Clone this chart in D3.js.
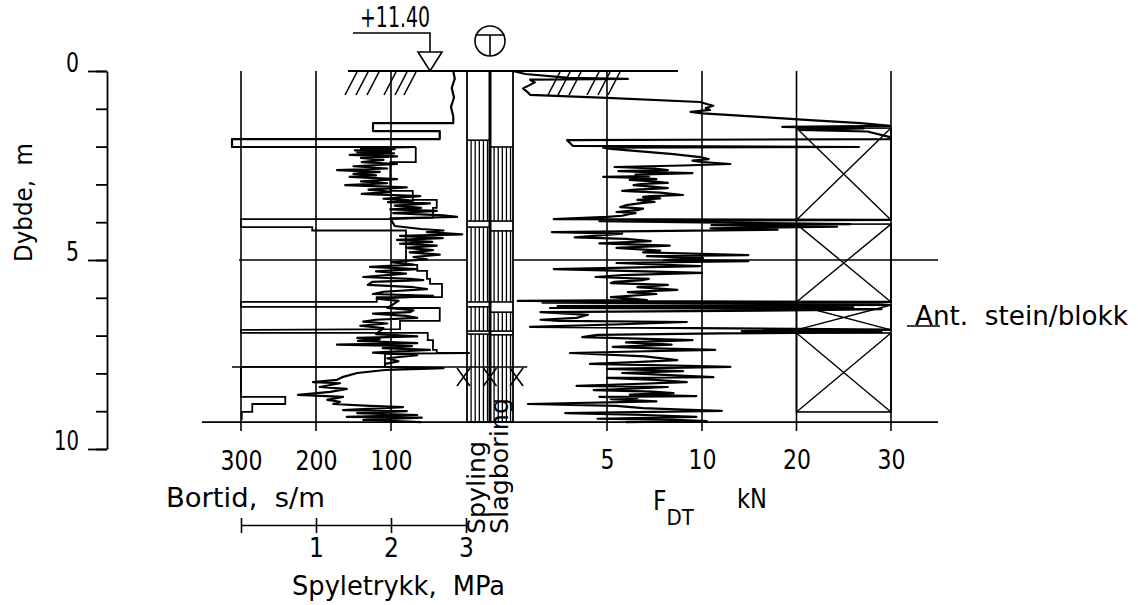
<!DOCTYPE html>
<html>
<head>
<meta charset="utf-8">
<script src="https://cdn.jsdelivr.net/npm/d3@7/dist/d3.min.js"></script>
<style>
  body { margin: 0; background: #fff; }
  svg text { font-family: "DejaVu Sans Condensed", "DejaVu Sans", sans-serif; fill: #000; white-space: pre; }
</style>
</head>
<body>
<svg id="chart" width="1138" height="605"></svg>
<script>
// ---- tick values and labels ----
const depthTicks = [0, 1, 2, 3, 4, 5, 6, 7, 8, 9, 10];
const depthLabels = [0, 5, 10];
const bortidTicks = [300, 200, 100];
const pressureTicks = [0, 1, 2, 3];
const forceTicks = [5, 10, 20, 30];
const groundLevel = "+11.40";

// ---- sounding record ----
const endDepth = 9.29;           // m, bottom of sounding
const markerDepth = 7.83;        // m, marker line with X symbols
const spylingIntervals = [[1.83, 3.97], [4.13, 6.11], [6.24, 6.88], [6.96, 9.31]];
const slagIntervals    = [[2.01, 3.97], [4.23, 6.11], [6.38, 6.88], [6.98, 9.31]];
const stoneIntervals   = [[1.51, 3.94], [4.05, 6.11], [6.19, 6.85], [6.93, 9.02]];

// penetration time, [depth m, s/m]
const bortid = [
  [0.00,17],[0.20,15],[0.45,19],[0.70,16],[0.95,20],[1.20,17],[1.38,17],[1.38,124],[1.59,124],[1.59,35],
  [1.80,35],[1.80,312],[2.01,312],[2.01,68],
  [2.05,140],[2.07,95],[2.10,148],[2.12,100],[2.15,145],[2.18,96],[2.22,155],[2.26,92],[2.30,140],[2.35,110],
  [2.41,139],[2.46,92],[2.52,150],[2.58,105],[2.62,172],[2.67,115],[2.72,150],[2.76,120],[2.80,155],[2.86,92],
  [2.92,140],[2.97,105],[3.02,161],[3.08,79],[3.14,130],[3.20,100],[3.25,139],[3.31,61],[3.38,110],[3.43,70],
  [3.47,104],[3.50,48],[3.56,95],[3.62,60],[3.66,101],[3.70,39],[3.76,97],[3.82,30],[3.86,12],[3.90,101],
  [4.10,95],[4.18,60],[4.22,30],[4.26,52],[4.32,5],[4.36,88],[4.42,31],[4.47,92],[4.52,45],[4.57,88],
  [4.62,39],[4.68,80],[4.74,44],[4.80,75],[4.86,35],[4.92,70],[4.98,52],[5.06,100],[5.12,70],[5.18,128],
  [5.24,65],[5.30,120],[5.36,80],[5.45,137],[5.50,75],[5.53,57],[5.58,125],[5.66,131],[5.72,70],[5.77,52],
  [5.84,110],[5.90,124],[5.95,44],[6.02,119],[6.08,90],
  [6.27,105],[6.33,70],[6.38,75],[6.42,124],[6.48,80],[6.53,65],[6.58,120],[6.63,137],[6.68,105],[6.74,141],[6.80,110],
  [6.96,120],[7.02,65],[7.06,145],[7.10,115],[7.14,144],[7.20,65],[7.24,172],[7.28,72],[7.33,111],[7.38,48],
  [7.45,124],[7.52,65],[7.60,105],[7.68,90],[7.75,108],[7.83,108],[7.86,30],[7.88,60],[7.91,108],[7.99,145],
  [8.10,165],[8.17,172],[8.23,204],[8.26,168],[8.36,195],[8.41,159],[8.49,181],[8.57,224],[8.62,164],[8.70,185],
  [8.75,168],[8.81,177],[8.86,128],[8.89,84],[8.97,164],[9.00,79],[9.05,145],[9.10,65],[9.15,159],[9.17,59],
  [9.23,137],[9.29,60]
];

// flushing pressure, [depth m, MPa]
const spyletrykk = [
  [2.01,2.33],[2.41,2.33],[2.41,1.99],[3.17,1.99],[3.17,2.29],[3.41,2.29],[3.41,2.61],[3.62,2.61],[3.62,2.56],
  [3.88,2.56],[3.92,2.0],[3.92,0.0],[4.13,0.0],[4.13,0.95],[4.22,0.95],[4.22,2.2],[5.13,2.2],[5.13,2.35],
  [5.29,2.35],[5.29,2.48],[5.50,2.48],[5.50,2.52],[5.63,2.52],[5.63,2.68],[5.98,2.68],[5.98,1.81],[6.11,1.81],
  [6.11,0.0],[6.24,0.0],[6.24,2.01],[6.27,2.01],[6.27,2.65],[6.61,2.65],[6.61,2.12],[6.83,2.12],[6.85,0.0],
  [6.93,0.0],[6.93,2.49],[7.12,2.49],[7.12,2.56],[7.38,2.56],[7.38,2.61],[7.46,2.61],[7.46,3.05],[7.48,1.92],
  [7.83,1.92],[7.83,0.0],[8.62,0.0],[8.62,0.59],[8.81,0.59],[8.81,0.15],[9.02,0.15],[9.02,0.01],[9.20,0.01],[9.20,0.0]
];

// push force, [depth m, kN]
const fdt = [
  [0.00,0.05],[0.08,0.7],[0.18,3.0],[0.21,6.1],[0.23,0.95],[0.30,1.2],[0.38,0.9],[0.46,0.58],[0.55,0.8],[0.63,0.95],
  [0.71,5.0],[0.82,9.9],[0.88,10.6],[0.92,11.2],[0.98,10.4],[1.03,10.85],[1.08,9.4],[1.12,10.1],[1.22,16.5],[1.30,21.4],
  [1.38,26.8],[1.45,29.9],[1.48,18.5],[1.52,27.1],[1.56,20.3],[1.60,27.5],[1.75,29.9],[1.80,30],[1.83,2.9],[1.98,3.2],
  [2.01,26.6],[2.03,4.8],[2.06,5.2],[2.20,8.5],[2.28,9.9],[2.33,10.7],[2.37,9.5],[2.41,10.1],[2.46,13.0],[2.50,9.0],
  [2.54,5.4],[2.58,7.5],[2.62,8.2],[2.65,5.6],[2.67,6.8],[2.70,9.5],[2.74,6.5],[2.78,7.2],[2.80,4.8],[2.83,6.9],
  [2.86,7.6],[2.88,6.2],[2.92,7.4],[2.96,8.2],[2.99,6.8],[3.02,6.4],[3.06,7.4],[3.10,8.2],[3.14,6.5],[3.17,5.8],
  [3.22,7.8],[3.28,9.0],[3.31,7.3],[3.33,6.9],[3.37,7.8],[3.41,6.6],[3.46,7.5],[3.49,6.9],[3.55,6.0],[3.60,5.7],
  [3.64,6.9],[3.68,6.6],[3.73,5.5],[3.76,6.5],[3.78,6.2],[3.83,5.8],[3.86,5.0],[3.92,2.2],[3.94,30],[3.97,4.6],
  [4.02,14],[4.05,25.7],[4.08,11.0],[4.12,24.3],[4.16,10.9],[4.20,18],[4.26,2.1],[4.30,5.8],[4.34,4.8],[4.40,3.3],
  [4.44,6.0],[4.50,7.3],[4.56,4.6],[4.62,8.3],[4.68,5.5],[4.75,7.8],[4.80,6.9],[4.87,14.9],[4.90,7.1],[4.95,10.1],
  [5.00,8.0],[5.03,14.9],[5.08,5.5],[5.16,9.9],[5.24,2.2],[5.30,7.0],[5.34,10.0],[5.40,5.8],[5.45,4.4],[5.50,7.2],
  [5.53,6.9],[5.58,5.4],[5.61,5.2],[5.66,8.2],[5.72,6.6],[5.79,8.7],[5.85,6.1],[5.90,7.6],[5.98,5.2],[6.03,6.4],
  [6.06,7.1],[6.08,0.3],[6.11,30],[6.13,1.6],[6.16,28],[6.19,30],[6.22,2.4],[6.25,26],[6.27,2.0],[6.30,29],
  [6.33,21.7],[6.38,1.5],[6.45,4.0],[6.53,3.4],[6.58,1.5],[6.61,2.5],[6.64,9.2],[6.70,5.8],[6.77,0.95],[6.84,30],
  [6.88,14.2],[6.91,29],[6.94,12],[6.98,4.5],[7.04,3.7],[7.12,9.5],[7.18,6.0],[7.24,8.4],[7.30,5.3],[7.34,7.5],
  [7.38,11.4],[7.42,6.5],[7.46,3.05],[7.55,7.0],[7.65,8.7],[7.70,6.5],[7.75,4.1],[7.80,9.2],[7.83,13.0],[7.88,5.0],
  [7.91,7.0],[7.94,9.0],[7.99,5.8],[8.04,8.0],[8.10,11.2],[8.12,5.0],[8.17,7.5],[8.23,9.2],[8.28,6.4],[8.33,3.4],
  [8.36,8.2],[8.40,6.5],[8.44,4.3],[8.48,7.4],[8.52,8.5],[8.56,6.2],[8.60,9.7],[8.62,4.6],[8.65,6.6],[8.68,5.2],
  [8.74,7.6],[8.81,0.84],[8.86,5.5],[8.92,6.9],[8.96,9.0],[8.99,12.1],[9.05,2.8],[9.10,7.0],[9.15,9.7],[9.20,4.5],
  [9.23,8.5],[9.26,10.5],[9.29,6.0]
];

// ---- layout ----
const svg = d3.select("#chart");
const FS = 26;
const y  = d3.scaleLinear().domain([0, 10]).range([71, 449]);
const xT = d3.scaleLinear().domain([0, 300]).range([466, 241]);     // bortid, s/m
const xP = d3.scaleLinear().domain([0, 3]).range([241, 466]);       // spyletrykk, MPa
const xF = d3.scaleLinear().domain([0, 10, 30]).range([512, 702, 891]); // F_DT, kN
const colSpyl = [467, 490], colSlag = [490, 513];
const gridBottom = 431;

// text helper; len stretches the string to a fixed run length
function label(parent, str, size, len) {
  const t = parent.append("text").attr("font-size", size).attr("xml:space", "preserve").text(str);
  if (len) t.attr("textLength", len).attr("lengthAdjust", "spacingAndGlyphs");
  return t;
}

const ink = svg.append("g").attr("stroke", "#000").attr("fill", "none");

// depth axis: minor ticks, then major ticks with labels
const axMinor = d3.axisLeft(y).tickValues(depthTicks).tickSize(11).tickFormat("").tickSizeOuter(0);
const gMinor = svg.append("g").attr("transform", "translate(107,0)").call(axMinor);
gMinor.selectAll("line,path").attr("stroke", "#000").attr("stroke-width", 1.8);
const axMajor = d3.axisLeft(y).tickValues(depthLabels).tickSize(19).tickPadding(9).tickSizeOuter(0);
const gMajor = svg.append("g").attr("transform", "translate(107,0)").call(axMajor);
gMajor.select(".domain").remove();
gMajor.selectAll("line").attr("stroke", "#000").attr("stroke-width", 1.8);
gMajor.selectAll("text").attr("dy", "0").attr("font-size", 27).attr("font-family", null)
  .attr("textLength", d => d >= 10 ? 25 : 13).attr("lengthAdjust", "spacingAndGlyphs");
label(svg, "Dybde,  m", 25, 119).attr("transform", "translate(32,262) rotate(-90)");

// vertical grid lines
ink.selectAll(".gt").data(bortidTicks).join("line")
  .attr("x1", d => xT(d)).attr("x2", d => xT(d)).attr("y1", y(0)).attr("y2", gridBottom).attr("stroke-width", 1.6);
ink.selectAll(".gf").data(forceTicks).join("line")
  .attr("x1", d => xF(d)).attr("x2", d => xF(d)).attr("y1", y(0)).attr("y2", gridBottom).attr("stroke-width", 1.6);

// horizontal reference lines
ink.append("line").attr("x1", 239).attr("x2", colSpyl[0]).attr("y1", y(5)).attr("y2", y(5)).attr("stroke-width", 1.6);
ink.append("line").attr("x1", colSlag[1]).attr("x2", 938).attr("y1", y(5)).attr("y2", y(5)).attr("stroke-width", 1.6);
ink.append("line").attr("x1", 202).attr("x2", 938).attr("y1", y(endDepth)).attr("y2", y(endDepth)).attr("stroke-width", 1.8);
ink.append("line").attr("x1", 348).attr("x2", 678).attr("y1", y(0)).attr("y2", y(0)).attr("stroke-width", 1.8);

// ground hatching
const hatchL = [345, 356, 367, 384, 395, 404], hatchR = [548, 558, 569, 587, 598, 608];
ink.selectAll(".hl").data(hatchL.concat(hatchR)).join("line")
  .attr("x1", d => d).attr("y1", 95).attr("x2", d => d + 12).attr("y2", 72).attr("stroke-width", 1.6);

// ground level marker
ink.append("path").attr("d", "M353,33H430V52").attr("stroke-width", 1.6);
ink.append("path").attr("d", "M418,52H442L430,71Z").attr("stroke-width", 1.6);
label(svg, groundLevel, 28, 70).attr("x", 360).attr("y", 27);

// sounding method symbol
ink.append("circle").attr("cx", 490).attr("cy", 41).attr("r", 15).attr("stroke-width", 1.6);
ink.append("path").attr("d", "M475.5,35H504.5M490,35V56").attr("stroke-width", 1.6);

// stone / block boxes
stoneIntervals.forEach(([a, b]) => {
  const x0 = xF(20), x1 = xF(30), y0 = y(a), y1 = y(b);
  ink.append("rect").attr("x", x0).attr("y", y0).attr("width", x1 - x0).attr("height", y1 - y0).attr("stroke-width", 1.6);
  ink.append("path").attr("d", `M${x0},${y0}L${x1},${y1}M${x1},${y0}L${x0},${y1}`).attr("stroke-width", 1.4);
});

// method columns with hatched intervals
[[colSpyl, spylingIntervals], [colSlag, slagIntervals]].forEach(([c, ints]) => {
  const w = c[1] - c[0];
  ints.forEach(([a, b]) => {
    const y0 = y(a), y1 = Math.min(y(b), y(endDepth));
    ink.append("line").attr("x1", c[0]).attr("x2", c[1]).attr("y1", y0).attr("y2", y0).attr("stroke-width", 1.6);
    ink.append("line").attr("x1", c[0]).attr("x2", c[1]).attr("y1", y1).attr("y2", y1).attr("stroke-width", 1.6);
    d3.range(1, 6).forEach(k => {
      const xx = c[0] + k * w / 5.6;
      ink.append("line").attr("x1", xx).attr("x2", xx).attr("y1", y0).attr("y2", y1).attr("stroke-width", 1.3);
    });
  });
  ink.append("rect").attr("x", c[0]).attr("y", y(0)).attr("width", w).attr("height", y(endDepth) - y(0)).attr("stroke-width", 1.8);
});
ink.append("line").attr("x1", colSpyl[1]).attr("x2", colSpyl[1]).attr("y1", y(0)).attr("y2", y(endDepth)).attr("stroke-width", 3);

// curves
const lineT = d3.line().x(d => xT(d[1])).y(d => y(d[0]));
const lineP = d3.line().x(d => xP(d[1])).y(d => y(d[0]));
const lineF = d3.line().x(d => xF(d[1])).y(d => y(d[0]));
ink.append("path").attr("d", lineT(bortid)).attr("stroke-width", 2.2).attr("stroke-linejoin", "round");
ink.append("path").attr("d", lineP(spyletrykk)).attr("stroke-width", 1.8);
ink.append("path").attr("d", lineF(fdt)).attr("stroke-width", 2.2).attr("stroke-linejoin", "round");

// marker line with X symbols
const ym = y(markerDepth);
ink.append("line").attr("x1", xT(312)).attr("x2", xF(0.8)).attr("y1", ym).attr("y2", ym).attr("stroke-width", 1.6);
[-26.5, 0, 26.5].forEach(o => {
  const cx = colSpyl[1] + o;
  ink.append("path").attr("d", `M${cx - 6.5},${ym + 1}L${cx + 6.5},${ym + 19}M${cx + 6.5},${ym + 1}L${cx - 6.5},${ym + 19}`).attr("stroke-width", 1.6);
});

// bottom tick labels
const axT = d3.axisBottom(xT).tickValues(bortidTicks).tickSize(0).tickPadding(0);
const gT = svg.append("g").attr("transform", "translate(0,470)").call(axT);
const axF = d3.axisBottom(xF).tickValues(forceTicks).tickSize(0).tickPadding(0);
const gF = svg.append("g").attr("transform", "translate(0,469)").call(axF);
[gT, gF].forEach(g => {
  g.select(".domain").remove();
  g.selectAll("text").attr("y", 0).attr("dy", 0).attr("font-size", FS).attr("font-family", null)
    .attr("textLength", d => String(d).length * 14).attr("lengthAdjust", "spacingAndGlyphs");
});

// pressure scale bar
const axP = d3.axisBottom(xP).tickValues(pressureTicks).tickSize(15).tickPadding(0)
  .tickFormat(d => d === 0 ? "" : d);
const gP = svg.append("g").attr("transform", "translate(0,518)").call(axP);
gP.select(".domain").remove();
gP.selectAll("line").attr("stroke", "#000").attr("stroke-width", 1.6);
gP.selectAll("text").attr("y", 39).attr("dy", 0).attr("font-size", FS).attr("font-family", null);
ink.append("line").attr("x1", xP(0)).attr("x2", xP(3)).attr("y1", 525.5).attr("y2", 525.5).attr("stroke-width", 1.6);

// axis titles
label(svg, "Bortid,  s/m", FS, 159).attr("x", 166).attr("y", 507);
label(svg, "Spyletrykk,  MPa", FS, 213).attr("x", 292).attr("y", 595);
const ft = svg.append("text").attr("x", 653).attr("y", 510).attr("font-size", FS);
ft.append("tspan").text("F");
ft.append("tspan").attr("dy", 15).attr("font-size", 22).text("DT");
label(svg, "kN", FS, 30).attr("x", 737).attr("y", 508);

// column titles
label(svg, "Spyling", 24, 93).attr("transform", "translate(485,534) rotate(-90)");
label(svg, "Slagboring", 24, 136).attr("transform", "translate(508,534) rotate(-90)");

// stone/block label
ink.append("line").attr("x1", 907).attr("x2", 940).attr("y1", 326).attr("y2", 326).attr("stroke-width", 1.6);
label(svg, "Ant.  stein/blokk", FS, 213).attr("x", 915).attr("y", 325);
</script>
</body>
</html>
